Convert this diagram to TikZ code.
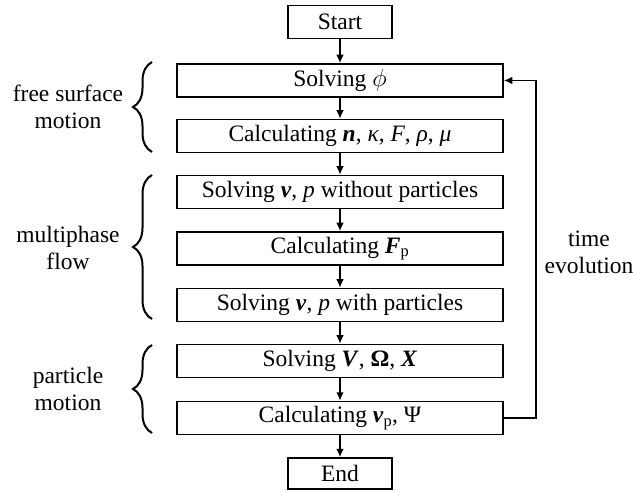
\documentclass[tikz,border=0pt]{standalone}
\usepackage{fontspec}
\setmainfont{Liberation Serif}
\usetikzlibrary{arrows.meta,decorations.pathreplacing}
\newcommand\bivec[1]{\textbf{\textit{#1}}}
\begin{document}
\begin{tikzpicture}[x=1pt,y=-1pt,
  font=\fontsize{23.5}{27}\selectfont,
  box/.style={draw, line width=1.5pt, minimum height=33pt, inner sep=0pt},
  wide/.style={box, minimum width=326pt},
  narrow/.style={box, minimum width=104pt},
  arr/.style={-{Latex[length=8.5pt,width=7.5pt]}, line width=1.5pt},
  brc/.style={decorate, decoration={brace, amplitude=19pt}, line width=2pt},
  lbl/.style={align=center, inner sep=0pt}]
\useasboundingbox (0,0) rectangle (633,492);
\node[narrow] (start) at (340,22) {Start};
\node[wide] (phi) at (340,80.5) {Solving $\phi$};
\node[wide] (calcn) at (340,136) {Calculating \bivec{n}, \textit{κ}, \textit{F}, \textit{ρ}, \textit{μ}};
\node[wide] (solvwo) at (340,192) {Solving \bivec{v}, \textit{p} without particles};
\node[wide] (fp) at (340,248.5) {Calculating \bivec{F}\textsubscript{p}};
\node[wide] (solvw) at (340,305) {Solving \bivec{v}, \textit{p} with particles};
\node[wide] (solvV) at (340,361) {Solving \bivec{V}, \textbf{Ω}, \bivec{X}};
\node[wide] (vp) at (340,418) {Calculating \bivec{v}\textsubscript{p}, Ψ};
\node[narrow, minimum height=31pt] (end) at (340,473.5) {End};
\draw[arr] (start) -- (phi);
\draw[arr] (phi) -- (calcn);
\draw[arr] (calcn) -- (solvwo);
\draw[arr] (solvwo) -- (fp);
\draw[arr] (fp) -- (solvw);
\draw[arr] (solvw) -- (solvV);
\draw[arr] (solvV) -- (vp);
\draw[arr] (vp) -- (end);
\coordinate (fb) at (536,250);
\draw[arr] (vp.east) -| (fb) |- (phi.east);
\node[lbl] (time) at (589,252) {time\\evolution};
\coordinate (b1s) at (152,152);
\coordinate (b1e) at (152,62);
\coordinate (b2s) at (152,319);
\coordinate (b2e) at (152,175);
\coordinate (b3s) at (152,433);
\coordinate (b3e) at (152,345);
\draw[brc] (b1s) -- (b1e);
\draw[brc] (b2s) -- (b2e);
\draw[brc] (b3s) -- (b3e);
\node[lbl] (fs) at (68,106.5) {free surface\\motion};
\node[lbl] (mf) at (68,248) {multiphase\\flow};
\node[lbl] (pm) at (68,389) {particle\\motion};
\end{tikzpicture}
\end{document}
